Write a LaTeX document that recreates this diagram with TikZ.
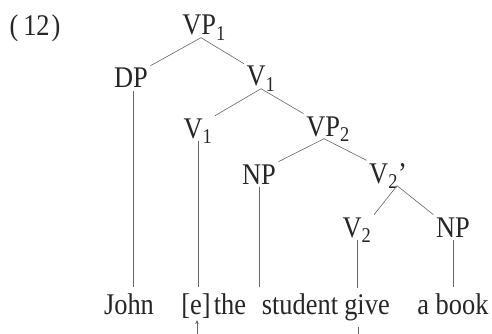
\documentclass[tikz,border=0pt]{standalone}
\usepackage{fontspec}
\setmainfont{Liberation Serif}[FakeStretch=0.88]
\usetikzlibrary{arrows.meta}
\begin{document}
\begin{tikzpicture}[x=1pt,y=-1pt,
  every node/.style={font=\fontsize{30}{33}\selectfont, text=black!85, inner sep=2.5pt, text depth=0pt, anchor=base},
  word/.style={inner sep=2pt, outer ysep=4pt},
  edge/.style={draw=black!60, line width=0.6pt}]
\useasboundingbox (0,0) rectangle (492,334);
\node (num) at (35,36) {(\kern5pt 12\kern2pt)};
% tree labels
\node (VP1) at (204,35) {VP\textsubscript{1}};
\node (DP)  at (131,88) {DP};
\node (V1a) at (261,86) {V\textsubscript{1}};
\node (V1b) at (198,138) {V\textsubscript{1}};
\node (VP2) at (328,136) {VP\textsubscript{2}};
\node (NPa) at (259,184) {NP};
\node (V2p) at (388,183) {V\textsubscript{2}’};
\node (V2)  at (357,237) {V\textsubscript{2}};
\node (NPb) at (453,237) {NP};
% words
\node[word] (John) at (129,314) {John};
\node[word] (e) at (196,314) {[e]};
\node[word] (the) at (230,314) {the};
\node[word] (student) at (300,314) {student};
\node[word] (give) at (367,314) {give};
\node[word] (book) at (453,314) {a book};
% branches
\draw[edge] ([xshift=-3pt]VP1.south) -- (DP.north east);
\draw[edge] ([xshift=-3pt]VP1.south) -- (V1a.north west);
\draw[edge] (V1a.south) -- (V1b.north east);
\draw[edge] (V1a.south) -- (VP2.north west);
\draw[edge] ([xshift=-4pt]VP2.south) -- (NPa.north east);
\draw[edge] ([xshift=-4pt]VP2.south) -- (V2p.north west);
\draw[edge] ([xshift=9pt]V2p.south) -- (V2.north east);
\draw[edge] ([xshift=9pt]V2p.south) -- (NPb.north west);
% vertical lines to words
\draw[edge] ([xshift=2pt]DP.south) -- ([xshift=2pt]DP.south |- John.north);
\draw[edge] (V1b.south) -- (V1b.south |- e.north);
\draw[edge] (NPa.south) -- (NPa.south |- student.north);
\draw[edge] (V2.south) -- (V2.south |- give.north);
\draw[edge] (NPb.south) -- (NPb.south |- book.north);
% cropped movement path
\coordinate (ebot) at (197,334);
\draw[edge, -{Stealth[length=4pt,width=3.5pt]}] (ebot) -- (ebot |- e.south);
\coordinate (gtop) at (358,327);
\coordinate (gbot) at (358,334);
\draw[edge] (gtop) -- (gbot);
\end{tikzpicture}
\end{document}
